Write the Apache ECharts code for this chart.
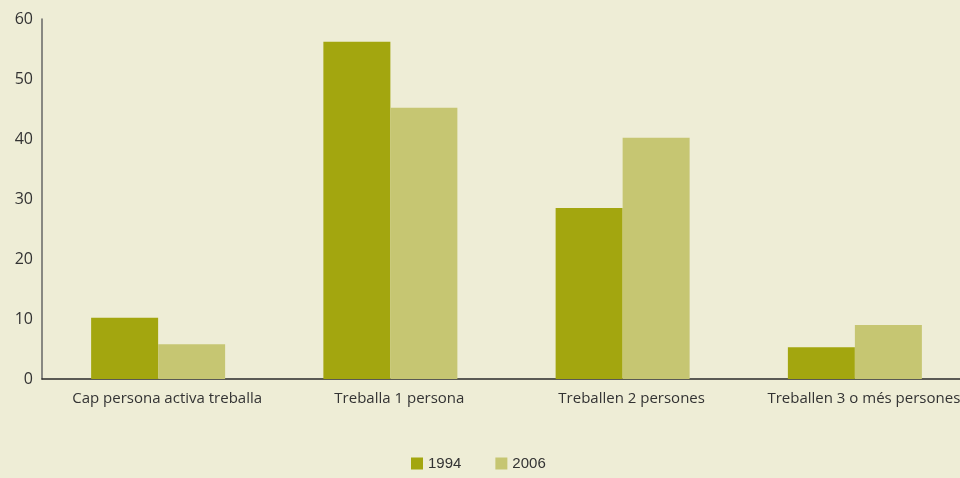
<!DOCTYPE html>
<html>
<head>
<meta charset="utf-8">
<style>
  html, body { margin: 0; padding: 0; background: #EEEDD6; overflow: hidden; }
  #chart { width: 980px; height: 478px; }
</style>
<script src="https://cdn.jsdelivr.net/npm/echarts@6/dist/echarts.min.js"></script>
</head>
<body>
<div id="chart"></div>
<script>
// Households by number of working members (%)
const categories = ['Cap persona activa treballa', 'Treballa 1 persona', 'Treballen 2 persones', 'Treballen 3 o més persones'];
const values1994 = [10.2, 56.2, 28.5, 5.3];
const values2006 = [5.8, 45.2, 40.2, 9.0];
const yTicks = { min: 0, max: 60, interval: 10 };

const chart = echarts.init(document.getElementById('chart'), null, { renderer: 'canvas' });
chart.setOption({
  backgroundColor: '#EEEDD6',
  animation: false,
  grid: { left: 42, top: 19, width: 929, height: 360, containLabel: false },
  legend: {
    bottom: 2,
    left: 406,
    itemWidth: 12,
    itemHeight: 12,
    itemGap: 34,
    icon: 'rect',
    textStyle: { fontFamily: 'Liberation Sans', fontSize: 15, color: '#333' },
    data: ['1994', '2006']
  },
  xAxis: {
    type: 'category',
    data: categories,
    axisLine: { lineStyle: { color: '#2a2a2a', width: 1.5 } },
    axisTick: { show: false },
    axisLabel: { interval: 0, fontFamily: 'Open Sans', fontSize: 15, color: '#333', margin: 12, padding: [0, 0, 0, 18] }
  },
  yAxis: {
    type: 'value',
    min: yTicks.min,
    max: yTicks.max,
    interval: yTicks.interval,
    axisLine: { show: true, lineStyle: { color: '#666', width: 1.5 } },
    axisTick: { show: false },
    splitLine: { show: false },
    axisLabel: { fontFamily: 'Open Sans', fontSize: 16, color: '#333', margin: 9 }
  },
  series: [
    {
      name: '1994', type: 'bar', data: values1994,
      barWidth: 67, barGap: '0%',
      itemStyle: { color: '#A3A60F' }
    },
    {
      name: '2006', type: 'bar', data: values2006,
      barWidth: 67,
      itemStyle: { color: '#C6C672' }
    }
  ]
});
</script>
</body>
</html>
